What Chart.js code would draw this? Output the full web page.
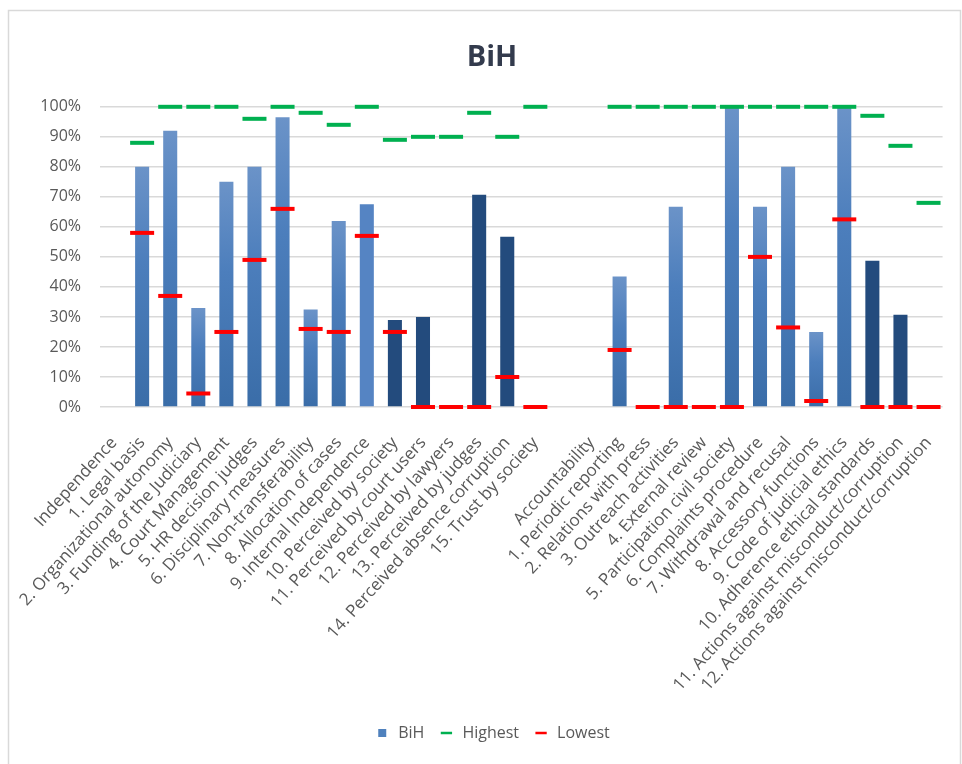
<!DOCTYPE html>
<html>
<head>
<meta charset="utf-8">
<script src="https://cdn.jsdelivr.net/npm/chart.js@4.4.0/dist/chart.umd.min.js"></script>
<style>
  html, body { margin: 0; padding: 0; background: #fff; }
</style>
</head>
<body>
<canvas id="grafico" width="962" height="764"></canvas>
<script>
const categorias = [
  'Independence', '1. Legal basis', '2. Organizational autonomy', '3. Funding of the Judiciary',
  '4. Court Management', '5. HR decision judges', '6. Disciplinary measures', '7. Non-transferability',
  '8. Allocation of cases', '9. Internal Independence', '10. Perceived by society',
  '11. Perceived by court users', '12. Perceived by lawyers', '13. Perceived by judges',
  '14. Perceived absence corruption', '15. Trust by society', '',
  'Accountability', '1. Periodic reporting', '2. Relations with press', '3. Outreach activities',
  '4. External review', '5. Participation civil society', '6. Complaints procedure',
  '7. Withdrawal and recusal', '8. Accessory functions', '9. Code of judicial ethics',
  '10. Adherence ethical standards', '11. Actions against misconduct/corruption',
  '12. Actions against misconduct/corruption'
];
const valoresBiH = [null, 80, 92, 33, 75, 80, 96.5, 32.5, 62, 67.5, 29, 30, null, 70.7, 56.7, null, null,
  null, 43.5, null, 66.7, null, 100, 66.7, 80, 25, 100, 48.7, 30.7, null];
const valoresMax = [null, 88, 100, 100, 100, 96, 100, 98, 94, 100, 89, 90, 90, 98, 90, 100, null,
  null, 100, 100, 100, 100, 100, 100, 100, 100, 100, 97, 87, 68];
const valoresMin = [null, 58, 37, 4.5, 25, 49, 66, 26, 25, 57, 25, 0, 0, 0, 10, 0, null,
  null, 19, 0, 0, 0, 0, 50, 26.5, 2, 62.5, 0, 0, 0];
const ticksY = [0, 10, 20, 30, 40, 50, 60, 70, 80, 90, 100];

// barras de percepcion en azul oscuro
const barrasOscuras = ['10. Perceived by society', '11. Perceived by court users', '13. Perceived by judges',
  '14. Perceived absence corruption', '10. Adherence ethical standards', '11. Actions against misconduct/corruption'];

const gris = '#595959';
const fuente = "'Open Sans', sans-serif";

function colorBarra(ctx) {
  const nombre = categorias[ctx.dataIndex];
  if (barrasOscuras.includes(nombre)) return '#234b7d';
  if (nombre === '9. Internal Independence') return '#5584c3';
  const chart = ctx.chart;
  if (!chart.chartArea || ctx.raw == null) return '#4a7ab8';
  const y = chart.scales.y.getPixelForValue(ctx.raw);
  const base = chart.scales.y.getPixelForValue(0);
  const g = chart.ctx.createLinearGradient(0, y, 0, base);
  g.addColorStop(0, '#6b93c8');
  g.addColorStop(0.4, '#4c7ebc');
  g.addColorStop(1, '#3a6da8');
  return g;
}

const marco = {
  id: 'marco',
  beforeDraw(chart) {
    const c = chart.ctx;
    c.save();
    c.fillStyle = '#fff';
    c.fillRect(0, 0, chart.width, chart.height);
    c.strokeStyle = '#d9d9d9';
    c.lineWidth = 1.5;
    c.strokeRect(8.5, 10.5, 952, 800);
    c.restore();
  }
};

const guion = (label, datos, color, orden) => ({
  type: 'line',
  label,
  data: datos,
  showLine: false,
  borderColor: color,
  backgroundColor: color,
  pointStyle: 'line',
  pointRadius: 12,
  pointHoverRadius: 12,
  pointBorderWidth: 4,
  pointHoverBorderWidth: 4,
  clip: false,
  order: orden
});

new Chart(document.getElementById('grafico'), {
  type: 'bar',
  data: {
    labels: categorias,
    datasets: [
      {
        label: 'BiH',
        data: valoresBiH,
        backgroundColor: colorBarra,
        barPercentage: 0.5,
        categoryPercentage: 1,
        order: 3
      },
      guion('Highest', valoresMax, '#00b050', 2),
      guion('Lowest', valoresMin, '#ff0000', 1)
    ]
  },
  options: {
    responsive: false,
    animation: false,
    devicePixelRatio: 1,
    layout: { padding: { left: 40, right: 18, top: 14, bottom: 13 } },
    plugins: {
      title: {
        display: true,
        text: 'BiH',
        color: '#333b4d',
        font: { family: fuente, size: 29, weight: 'bold' },
        padding: { top: 26, bottom: 32 }
      },
      legend: {
        position: 'bottom',
        labels: {
          color: gris,
          font: { family: fuente, size: 16 },
          usePointStyle: true,
          boxHeight: 8,
          padding: 14,
          sort: (a, b) => a.datasetIndex - b.datasetIndex,
          generateLabels(chart) {
            const items = Chart.defaults.plugins.legend.labels.generateLabels(chart);
            items.forEach(it => {
              if (it.datasetIndex === 0) {
                it.pointStyle = 'rect';
                it.fillStyle = '#4f81bd';
                it.strokeStyle = '#4f81bd';
                it.lineWidth = 0;
              } else {
                it.pointStyle = 'line';
                it.lineWidth = 2.5;
              }
            });
            return items;
          }
        }
      },
      tooltip: { enabled: false }
    },
    scales: {
      x: {
        grid: { display: false },
        border: { display: false },
        ticks: {
          autoSkip: false,
          minRotation: 48,
          maxRotation: 48,
          color: gris,
          padding: 18,
          font: { family: fuente, size: 17 }
        },
        afterFit(scale) { scale.height = 304; }
      },
      y: {
        min: 0,
        max: 100,
        afterBuildTicks(scale) { scale.ticks = ticksY.map(v => ({ value: v })); },
        grid: { color: '#d9d9d9', lineWidth: 1.5, drawTicks: false },
        border: { display: false },
        ticks: {
          color: gris,
          padding: 19,
          font: { family: fuente, size: 16 },
          callback: v => v + '%'
        },
        afterFit(scale) { scale.width = 60; }
      }
    }
  },
  plugins: [marco]
});
</script>
</body>
</html>
